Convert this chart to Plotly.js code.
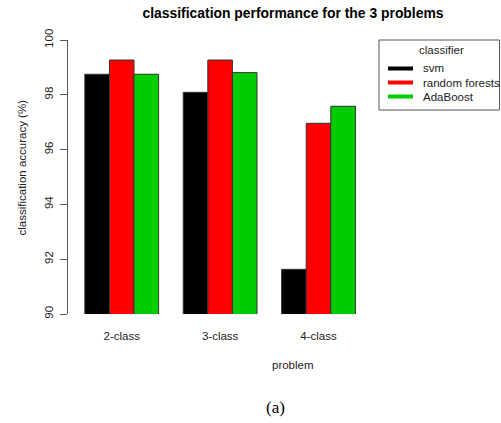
<!DOCTYPE html>
<html>
<head>
<meta charset="utf-8">
<script src="https://cdn.plot.ly/plotly-3.0.1.min.js"></script>
<style>html,body{margin:0;padding:0;background:#fff;}#chart{width:501px;height:423px;}</style>
</head>
<body>
<div id="chart"></div>
<script>
// ---- data ----
const problems = ["2-class", "3-class", "4-class"];
const classifiers = ["svm", "random forests", "AdaBoost"];
const svm = [98.75, 98.09, 91.63];
const randomForests = [99.27, 99.27, 96.96];
const adaBoost = [98.75, 98.81, 97.58];
const yTicks = [90, 92, 94, 96, 98, 100];

// ---- styling ----
const colors = ["#000000", "#FF0000", "#00CD00"];
const series = [svm, randomForests, adaBoost];
const FONT = "Liberation Sans, Arial, sans-serif";
const W = 501, H = 423;
const L = 68, R = 368, T = 40, B = 314;
const px = x => (x - L) / (R - L);
const py = y => (B - y) / (B - T);

const traces = series.map((vals, i) => ({
  type: "bar",
  x: problems,
  y: vals,
  name: classifiers[i],
  marker: {color: colors[i], line: {color: "#333333", width: 1}},
  showlegend: false,
  hoverinfo: "x+y+name"
}));

const shapes = [{
  type: "rect", xref: "paper", yref: "paper",
  x0: px(379), x1: px(499.5), y0: py(110), y1: py(40),
  line: {color: "#555555", width: 1}, fillcolor: "rgba(0,0,0,0)"
}];
const annotations = [
  {text: "classifier", xref: "paper", yref: "paper", x: px(441.5), y: py(50),
   showarrow: false, xanchor: "center", yanchor: "middle",
   font: {family: FONT, size: 11.5, color: "#222"}},
  {text: "problem", xref: "paper", yref: "paper", x: px(293), y: py(365),
   showarrow: false, xanchor: "center", yanchor: "middle",
   font: {family: FONT, size: 11.5, color: "#222"}},
  {text: "classification accuracy (%)", xref: "paper", yref: "paper", x: px(21), y: py(167.5),
   showarrow: false, xanchor: "center", yanchor: "middle", textangle: -90,
   font: {family: FONT, size: 11.5, color: "#222"}},
  {text: "(a)", xref: "paper", yref: "paper", x: px(275), y: py(407),
   showarrow: false, xanchor: "center", yanchor: "middle",
   font: {family: "Liberation Serif, Times New Roman, serif", size: 17, color: "#000"}}
];
const legendY = [68.5, 82.5, 96.5];
classifiers.forEach((c, i) => {
  shapes.push({type: "line", xref: "paper", yref: "paper",
    x0: px(388), x1: px(413), y0: py(legendY[i]), y1: py(legendY[i]),
    line: {color: colors[i], width: 4}});
  annotations.push({text: c, xref: "paper", yref: "paper", x: px(421), y: py(legendY[i]),
    showarrow: false, xanchor: "left", yanchor: "middle",
    font: {family: FONT, size: 11.5, color: "#222"}});
});

const layout = {
  width: W, height: H,
  margin: {l: L, r: W - R, t: T, b: H - B, pad: 0},
  paper_bgcolor: "#fff", plot_bgcolor: "#fff",
  title: {text: "classification performance for the 3 problems",
    xref: "container", yref: "container", x: 293 / W, y: 1 - 13 / H,
    xanchor: "center", yanchor: "middle",
    font: {family: FONT, size: 13.9, weight: "bold", color: "#000"}},
  barmode: "group", bargap: 0.25, bargroupgap: 0,
  showlegend: false,
  xaxis: {type: "category", range: [-0.546, 2.503], showline: false, ticks: "",
    showgrid: false, zeroline: false, fixedrange: true, ticklabelstandoff: 13,
    tickfont: {family: FONT, size: 11.5, color: "#222"}},
  yaxis: {range: [90, 100], tickvals: yTicks, ticktext: yTicks.map(String),
    showline: true, linecolor: "#555", linewidth: 1, ticks: "outside", ticklen: 7,
    tickcolor: "#555", tickwidth: 1, tickangle: -90, showgrid: false, zeroline: false,
    ticklabelstandoff: 2,
    tickfont: {family: FONT, size: 11.5, color: "#222"}},
  shapes: shapes,
  annotations: annotations
};

Plotly.newPlot("chart", traces, layout, {displayModeBar: false, staticPlot: true});
</script>
</body>
</html>
